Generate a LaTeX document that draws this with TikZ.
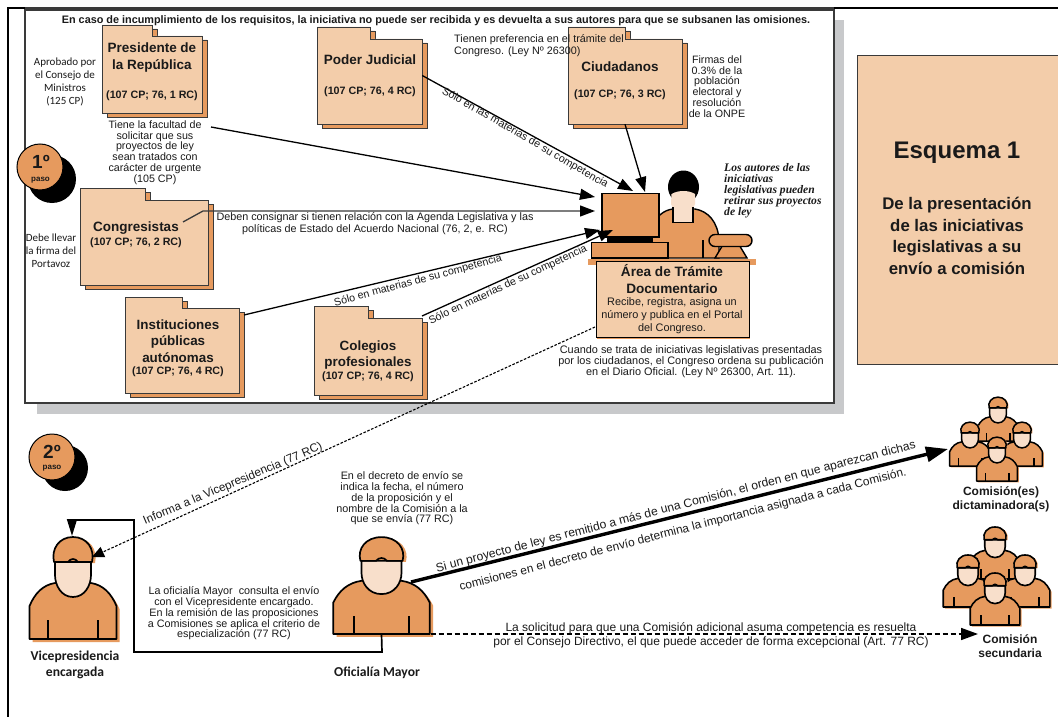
\documentclass[tikz,border=0pt]{standalone}
\usepackage{fontspec}
\setmainfont{Liberation Sans}
\newfontfamily\carl{Carlito}
\newfontfamily\tnr{Liberation Serif}
\usetikzlibrary{arrows.meta,fit}
\definecolor{lite}{HTML}{F3CDAA}
\definecolor{oran}{HTML}{E69A5E}
\definecolor{skin}{HTML}{F8DFCB}
\definecolor{shad}{HTML}{C8C9CB}
\definecolor{edgec}{HTML}{3A3A3A}
\definecolor{ink}{HTML}{1A1A1A}
\newcommand\fs[2]{\fontsize{#1}{#2}\selectfont}
\tikzset{
 txt/.style={align=center,inner sep=0pt,text=ink},
 smalltxt/.style={txt,font=\fs{10.7}{10.8}},
 carltxt/.style={txt,font=\carl\fs{11}{13}},
 foldcap/.style={txt,font=\bfseries\fs{13.5}{17}},
 refs/.style={txt,font=\bfseries\fs{10.7}{12}},
 rottxt/.style={txt,font=\fs{10.7}{11}},
 conn/.style={line width=1.3pt,black,-{Triangle[length=15pt,width=11pt]}},
 dotline/.style={line width=1.1pt,dash pattern=on 2.6pt off 1.6pt,-{Triangle[length=12pt,width=11pt]}},
 fback/.style={fill=oran,draw=edgec,line width=.7pt},
 ffront/.style={fill=lite,draw=edgec,line width=.9pt},
 labc/.style={txt,font=\carl\bfseries\fs{13.6}{15.5}},
 labb/.style={txt,font=\bfseries\fs{12}{14.5}},
}
% name x1 ytab tabR ybody x2 ybot
\newcommand\folder[7]{%
 \path[fback,shift={(5,4)}] (#2,#3)--(#4,#3)--(#4,#5)--(#6,#5)--(#6,#7)--(#2,#7)--cycle;
 \path[ffront] (#2,#3)--(#4,#3)--(#4,#5)--(#6,#5)--(#6,#7)--(#2,#7)--cycle;
 \node[inner sep=0pt,fit={(#2,#3) (#6,#7)}] (#1) {};
}
% name cx ybottom sx sy linewidth
\newcommand\pers[6]{%
 \begin{scope}[shift={(#2,#3)},xscale=#4,yscale=#5,line width=#6pt,line join=round]
  \fill[oran,shift={(3,3)}] (-43.5,0)--(-43.5,-33) .. controls (-38,-46) and (-30,-54) .. (-18,-56)--(18,-56) .. controls (30,-54) and (38,-46) .. (43.5,-33)--(43.5,0)--cycle;
  \fill[oran,shift={(3,1)}] (-19,-77) .. controls (-22,-90) and (-14,-102) .. (0,-102) .. controls (14,-102) and (22,-90) .. (19,-77)--cycle;
  \path[fill=oran,draw=black] (-43.5,0)--(-43.5,-33) .. controls (-38,-46) and (-30,-54) .. (-18,-56)--(18,-56) .. controls (30,-54) and (38,-46) .. (43.5,-33)--(43.5,0)--cycle;
  \draw (-25,0)--(-25,-19);
  \draw (25,0)--(25,-19);
  \path[fill=skin,draw=black] (-18,-77)--(-18,-64) .. controls (-18,-54) and (-12,-42) .. (0,-42) .. controls (12,-42) and (18,-54) .. (18,-64)--(18,-77)--cycle;
  \path[fill=oran,draw=black] (-19,-77) .. controls (-22,-90) and (-14,-102) .. (0,-102) .. controls (14,-102) and (22,-90) .. (19,-77) -- (5,-77) .. controls (2,-81) and (-2,-81) .. (-5,-77) -- cycle;
  \node[inner sep=0pt,minimum width=87pt,minimum height=102pt,anchor=south,transform shape] (#1) at (0,0) {};
 \end{scope}
}
\begin{document}
\begin{tikzpicture}[x=1pt,y=-1pt]
\useasboundingbox (0,0) rectangle (1058,717);
\fill[white] (0,0) rectangle (1058,717);
% frame
\draw[black,line width=1.2pt] (8,717)--(8,8)--(1058,8);
% shadow + box
\fill[shad] (37,20) rectangle (844,414);
\path[fill=white,draw=edgec,line width=1.1pt] (25,10) rectangle (834,403);
\draw[edgec,line width=2pt] (25,8.5)--(834,8.5);
% right panel
\path[fill=lite,draw=edgec,line width=1pt] (857,56) rectangle (1058,364);
\node[txt,font=\bfseries\fs{24}{28}] (esq) at (957,153) {Esquema 1};
\node[txt,font=\bfseries\fs{16.8}{21.7}] (esqt) at (957,236) {De la presentación\\de las iniciativas\\legislativas a su\\envío a comisión};
% title
\node[txt,font=\bfseries\fs{10.85}{12}] (titulo) at (436,20.5) {En caso de incumplimiento de los requisitos, la iniciativa no puede ser recibida y es devuelta a sus autores para que se subsanen las omisiones.};
% folders
\folder{pres}{102}{25}{152}{36}{202}{113}
\folder{poder}{317}{27}{370}{39}{422}{124}
\folder{ciud}{568}{27}{625}{39}{682}{124}
\folder{cong}{80}{188}{145}{200}{208}{285}
\folder{inst}{125.5}{297}{182}{308}{239}{393}
\folder{coleg}{314}{306}{368}{318}{422}{395}
\node[foldcap] (presn) at (152,58) {Presidente de\\la República};
\node[refs] (presr) at (152,96) {(107 CP; 76, 1 RC)};
\node[foldcap] (podern) at (370,60) {Poder Judicial};
\node[refs] (poderr) at (370,91.5) {(107 CP; 76, 4 RC)};
\node[foldcap] (ciudn) at (620,67) {Ciudadanos};
\node[refs] (ciudr) at (620,95) {(107 CP; 76, 3 RC)};
\node[foldcap] (congn) at (136,228.5) {Congresistas};
\node[refs] (congr) at (136,243) {(107 CP; 76, 2 RC)};
\node[txt,font=\bfseries\fs{13.4}{16.5}] (instn) at (178,341) {Instituciones\\públicas\\autónomas};
\node[refs] (instr) at (178,372) {(107 CP; 76, 4 RC)};
\node[txt,font=\bfseries\fs{13.4}{16.5}] (colegn) at (368,355) {Colegios\\profesionales};
\node[refs] (colegr) at (368,376.5) {(107 CP; 76, 4 RC)};
% operator figure
\path[fill=oran,draw=black,line width=1.4pt] (650,258)--(650,232) .. controls (655,216) and (664,210) .. (673,209)--(695,209) .. controls (708,211) and (718,222) .. (719,240)--(719,258)--cycle;
\fill[black] (683.5,187) ellipse [x radius=15.5,y radius=16.5];
\path[fill=skin,draw=none] (671.5,194) .. controls (678,190) and (689,190) .. (695,194) -- (695,204) -- (692,211)--(674,211)--(671,204)--cycle;
\path[fill=skin,draw=black,line width=1.4pt] (673,207)--(673,222.5)--(693,222.5)--(693,207);
\path[fill=oran,draw=black,line width=1.8pt] (602,193.5) rectangle (659,237);
\fill[black] (607,237) rectangle (653,243);
\path[fill=oran,draw=black,line width=1.6pt] (591.5,242.5) rectangle (668,258);
\draw[black,line width=1.6pt] (703,240)--(703,258);
\path[fill=oran,draw=black,line width=1.4pt] (715,258) -- (724,243) -- (738,243) -- (747,258) -- cycle;
\path[fill=oran,draw=black,line width=1.4pt,rounded corners=6pt] (709,234.5) rectangle (752,246.5);
\fill[oran] (588,259) rectangle (756,265);
\fill[oran] (597,262) rectangle (750,338.5);
\node[draw=black,line width=1pt,fill=lite,inner sep=0pt,minimum width=153pt,minimum height=76pt,anchor=north west] (area) at (596,261) {};
\node[txt,font=\bfseries\fs{13.6}{17}] (arean) at (672,279.5) {Área de Trámite\\Documentario};
\node[txt,font=\fs{10.9}{13.3}] (areat) at (672,315.5) {Recibe, registra, asigna un\\número y publica en el Portal\\del Congreso.};
% side texts
\node[carltxt] (aprob) at (65,81.5) {Aprobado por\\el Consejo de\\Ministros\\(125 CP)};
\node[smalltxt] (tiene) at (155,152.5) {Tiene la facultad de\\solicitar que sus\\proyectos de ley\\sean tratados con\\carácter de urgente\\(105 CP)};
\node[carltxt] (debe) at (51,251) {Debe llevar\\la firma del\\Portavoz};
\node[txt,font=\fs{10.8}{12.5}] (deben) at (375,223.5) {Deben consignar si tienen relación con la Agenda Legislativa y las\\políticas de Estado del Acuerdo Nacional (76, 2, e. RC)};
\node[txt,font=\fs{10.8}{11.5},align=left,anchor=west] (prefer) at (454,45.5) {Tienen preferencia en el trámite del\\Congreso. (Ley Nº 26300)};
\node[smalltxt] (firmas) at (717,86.5) {Firmas del\\0.3\% de la\\población\\electoral y\\resolución\\de la ONPE};
\node[txt,font=\tnr\bfseries\itshape\fs{11.6}{11},align=left,anchor=west] (retirar) at (724,191) {Los autores de las\\iniciativas\\legislativas pueden\\retirar sus proyectos\\de ley};
\node[smalltxt,font=\fs{10.9}{11}] (cuando) at (691,362) {Cuando se trata de iniciativas legislativas presentadas\\por los ciudadanos, el Congreso ordena su publicación\\en el Diario Oficial. (Ley Nº 26300, Art. 11).};
% step badges
\fill[black] (52,179) circle [radius=24];
\path[fill=oran,draw=black,line width=1pt] (40,167) circle [radius=23];
\node[txt,font=\bfseries\fs{19}{19}] (p1) at (41,162) {1º};
\node[txt,font=\bfseries\fs{8}{8}] (p1b) at (40.5,180) {paso};
\fill[black] (65,468) circle [radius=23];
\path[fill=oran,draw=black,line width=1pt] (52,457) circle [radius=23];
\node[txt,font=\bfseries\fs{19}{19}] (p2) at (52,452) {2º};
\node[txt,font=\bfseries\fs{8}{8}] (p2b) at (52,468.5) {paso};
% connector ends
\coordinate (c1) at (211,127);
\coordinate (c1t) at (595,197);
\coordinate (c2t) at (633,191);
\coordinate (c3t) at (645,192);
\coordinate (c4a) at (183,222);
\coordinate (c4b) at (203,211);
\coordinate (c4t) at (595,211);
\coordinate (c5) at (244,315);
\coordinate (c5t) at (600,230);
\coordinate (c6) at (422,316);
\coordinate (c6t) at (613,230);
\draw[conn] (c1)--(c1t);
\draw[conn] (poder.east)--(c2t);
\draw[conn] (ciud.south)--(c3t);
\draw[conn,draw=edgec,-{Triangle[length=15pt,width=11pt,black]}] (c4a)--(c4b)--(c4t);
\draw[conn] (c5)--(c5t);
\draw[conn] (c6)--(c6t);
\node[rottxt,rotate=-30] (r1) at (525,138) {Sólo en las materias de su competencia};
\node[rottxt,rotate=15] (r2) at (418,281) {Sólo en materias de su competencia};
\node[rottxt,rotate=25] (r3) at (508,285) {Sólo en materias de su competencia};
% persons
\pers{vice}{73}{639}{1}{1}{1.7}
\pers{ofi}{381.5}{634}{1.11}{0.95}{1.7}
\pers{cAback}{998}{441}{0.47}{0.43}{1.5}
\pers{cAleft}{970}{466}{0.47}{0.43}{1.5}
\pers{cAright}{1022}{466}{0.47}{0.43}{1.5}
\pers{cAfront}{997}{481}{0.47}{0.43}{1.5}
\pers{cBback}{995}{579}{0.57}{0.51}{1.6}
\pers{cBleft}{968}{607}{0.57}{0.51}{1.6}
\pers{cBright}{1025}{607}{0.57}{0.51}{1.6}
\pers{cBfront}{995}{625}{0.57}{0.51}{1.6}
\node[labc] (vicen) at (75,665) {Vicepresidencia\\encargada};
\node[labc] (ofin) at (377,673) {Oficialía Mayor};
\node[labb] (cAn) at (1001,499.5) {Comisión(es)\\dictaminadora(s)};
\node[labb] (cBn) at (1010,646) {Comisión\\secundaria};
% lower connectors
\coordinate (areaout) at (595,327);
\coordinate (vicein) at (92,557);
\draw[dotline] (areaout)--(vicein);
\node[txt,font=\fs{11.8}{13},rotate=23] (informa) at (233,484) {Informa a la Vicepresidencia (77 RC)};
\coordinate (e1) at (382,652);
\coordinate (e2) at (134,652);
\coordinate (e3) at (134,520);
\coordinate (e4) at (72,520);
\coordinate (e5) at (72,536);
\draw[black,line width=1.7pt,line join=miter] (ofi.south)--(e1)--(e2)--(e3)--(e4);
\draw[line width=1.7pt,-{Triangle[length=17pt,width=10pt]}] (e4)--(e5);
\coordinate (ofiout) at (411,582);
\coordinate (comin) at (948,449);
\draw[black,line width=3.4pt,-{Triangle[length=22pt,width=15pt]}] (ofiout)--(comin);
\node[txt,font=\fs{12.1}{13},rotate=14.5] (t1) at (676,507) {Si un proyecto de ley es remitido a más de una Comisión, el orden en que aparezcan dichas};
\node[txt,font=\fs{11.9}{13},rotate=14.5] (t2) at (683,530) {comisiones en el decreto de envío determina la importancia asignada a cada Comisión.};
\coordinate (secin) at (978,634);
\draw[black,line width=1.7pt,dash pattern=on 5pt off 3pt,-{Triangle[length=17pt,width=12pt]}] (ofi.south east)--(secin);
\node[txt,font=\fs{12}{14}] (soli) at (711,635) {La solicitud para que una Comisión adicional asuma competencia es resuelta\\por el Consejo Directivo, el que puede acceder de forma excepcional (Art. 77 RC)};
\node[smalltxt,font=\fs{10.8}{10.8}] (decreto) at (402,498.5) {En el decreto de envío se\\indica la fecha, el número\\de la proposición y el\\nombre de la Comisión a la\\que se envía (77 RC)};
\node[smalltxt,font=\fs{10.75}{10.8}] (consulta) at (234,613.5) {La oficialía Mayor\ \ consulta el envío\\con el Vicepresidente encargado.\\En la remisión de las proposiciones\\a Comisiones se aplica el criterio de\\especialización (77 RC)};
\end{tikzpicture}
\end{document}
